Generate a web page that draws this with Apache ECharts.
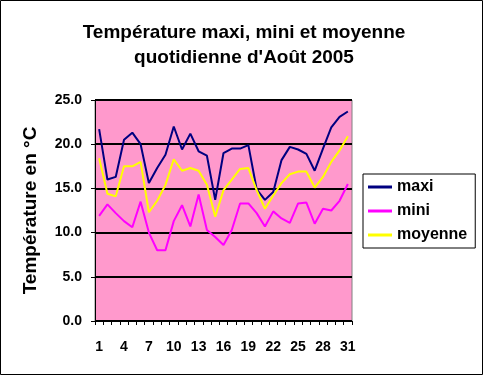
<!DOCTYPE html>
<html><head><meta charset="utf-8">
<script src="https://cdn.jsdelivr.net/npm/echarts@6/dist/echarts.min.js"></script>
<style>html,body{margin:0;padding:0;background:#fff}#c{width:483px;height:375px}</style>
</head><body><div id="c"></div>
<script>
var days = [];
for (var d = 1; d <= 31; d++) days.push(String(d));
var maxi = [21.7,16.0,16.3,20.5,21.3,20.0,15.6,17.3,18.8,22.0,19.4,21.2,19.2,18.7,13.7,19.0,19.5,19.5,19.9,14.9,13.7,14.6,18.2,19.7,19.4,18.9,17.0,19.5,21.9,23.1,23.7];
var mini = [11.9,13.2,12.2,11.3,10.6,13.5,10.0,8.0,8.0,11.3,13.1,10.7,14.3,10.3,9.5,8.6,10.3,13.3,13.3,12.2,10.7,12.4,11.6,11.1,13.3,13.4,11.0,12.7,12.5,13.6,15.5];
var moyenne = [18.4,14.4,14.1,17.5,17.5,18.0,12.3,13.6,15.4,18.3,17.0,17.3,17.0,15.4,11.8,14.8,16.0,17.2,17.3,14.8,12.7,14.2,15.6,16.6,16.9,16.9,15.1,16.3,18.0,19.3,20.9];
var yTicks = [0,5,10,15,20,25];

var chart = echarts.init(document.getElementById('c'));
var font = 'Liberation Sans, Arial, sans-serif';
chart.setOption({
  animation: false,
  backgroundColor: '#fff',
  textStyle: {fontFamily: font},
  title: {
    text: 'Température maxi, mini et moyenne\nquotidienne d\'Août 2005',
    left: 239, top: 15, textAlign: 'center',
    textStyle: {fontSize: 19, fontWeight: 'bold', color: '#000', lineHeight: 25, fontFamily: font}
  },
  graphic: [{type: 'rect', shape: {x: 0.5, y: 0.5, width: 482, height: 374}, style: {fill: 'none', stroke: '#000', lineWidth: 1}, silent: true}],
  legend: {
    orient: 'vertical', left: 363, top: 174,
    padding: [4, 8, 4, 5], itemGap: 6, itemWidth: 24, itemHeight: 3, icon: 'rect',
    borderColor: '#000', borderWidth: 1, backgroundColor: '#fff',
    textStyle: {fontSize: 16, fontWeight: 'bold', color: '#000', fontFamily: font, lineHeight: 18, height: 18},
    data: ['maxi', 'mini', 'moyenne']
  },
  grid: {left: 95, top: 100, width: 257, height: 221, show: true, backgroundColor: '#FF99CC', borderColor: '#808080', borderWidth: 1},
  xAxis: {
    type: 'category', data: days, boundaryGap: true,
    axisLine: {lineStyle: {color: '#000', width: 1}},
    axisTick: {show: true, interval: 0, length: 4, lineStyle: {color: '#000'}},
    axisLabel: {interval: 2, color: '#000', fontSize: 14, fontWeight: 'bold', margin: 19, fontFamily: font}
  },
  yAxis: {
    type: 'value', min: yTicks[0], max: yTicks[yTicks.length - 1], interval: 5,
    name: 'Température en °C', nameLocation: 'middle', nameGap: 55, nameRotate: 90,
    nameTextStyle: {fontSize: 19, fontWeight: 'bold', color: '#000', fontFamily: font},
    axisLine: {show: true, lineStyle: {color: '#000', width: 1}},
    axisTick: {show: true, length: 4, inside: false, lineStyle: {color: '#000'}},
    axisLabel: {color: '#000', fontSize: 14, fontWeight: 'bold', margin: 13, fontFamily: font, formatter: function (v) { return v.toFixed(1); }},
    splitLine: {show: true, lineStyle: {color: '#000', width: 2}}
  },
  series: [
    {name: 'maxi', type: 'line', data: maxi, symbol: 'none', color: '#000080', lineStyle: {width: 2, color: '#000080'}},
    {name: 'mini', type: 'line', data: mini, symbol: 'none', color: '#FF00FF', lineStyle: {width: 2, color: '#FF00FF'}},
    {name: 'moyenne', type: 'line', data: moyenne, symbol: 'none', color: '#FFFF00', lineStyle: {width: 2, color: '#FFFF00'}}
  ]
});
</script></body></html>
